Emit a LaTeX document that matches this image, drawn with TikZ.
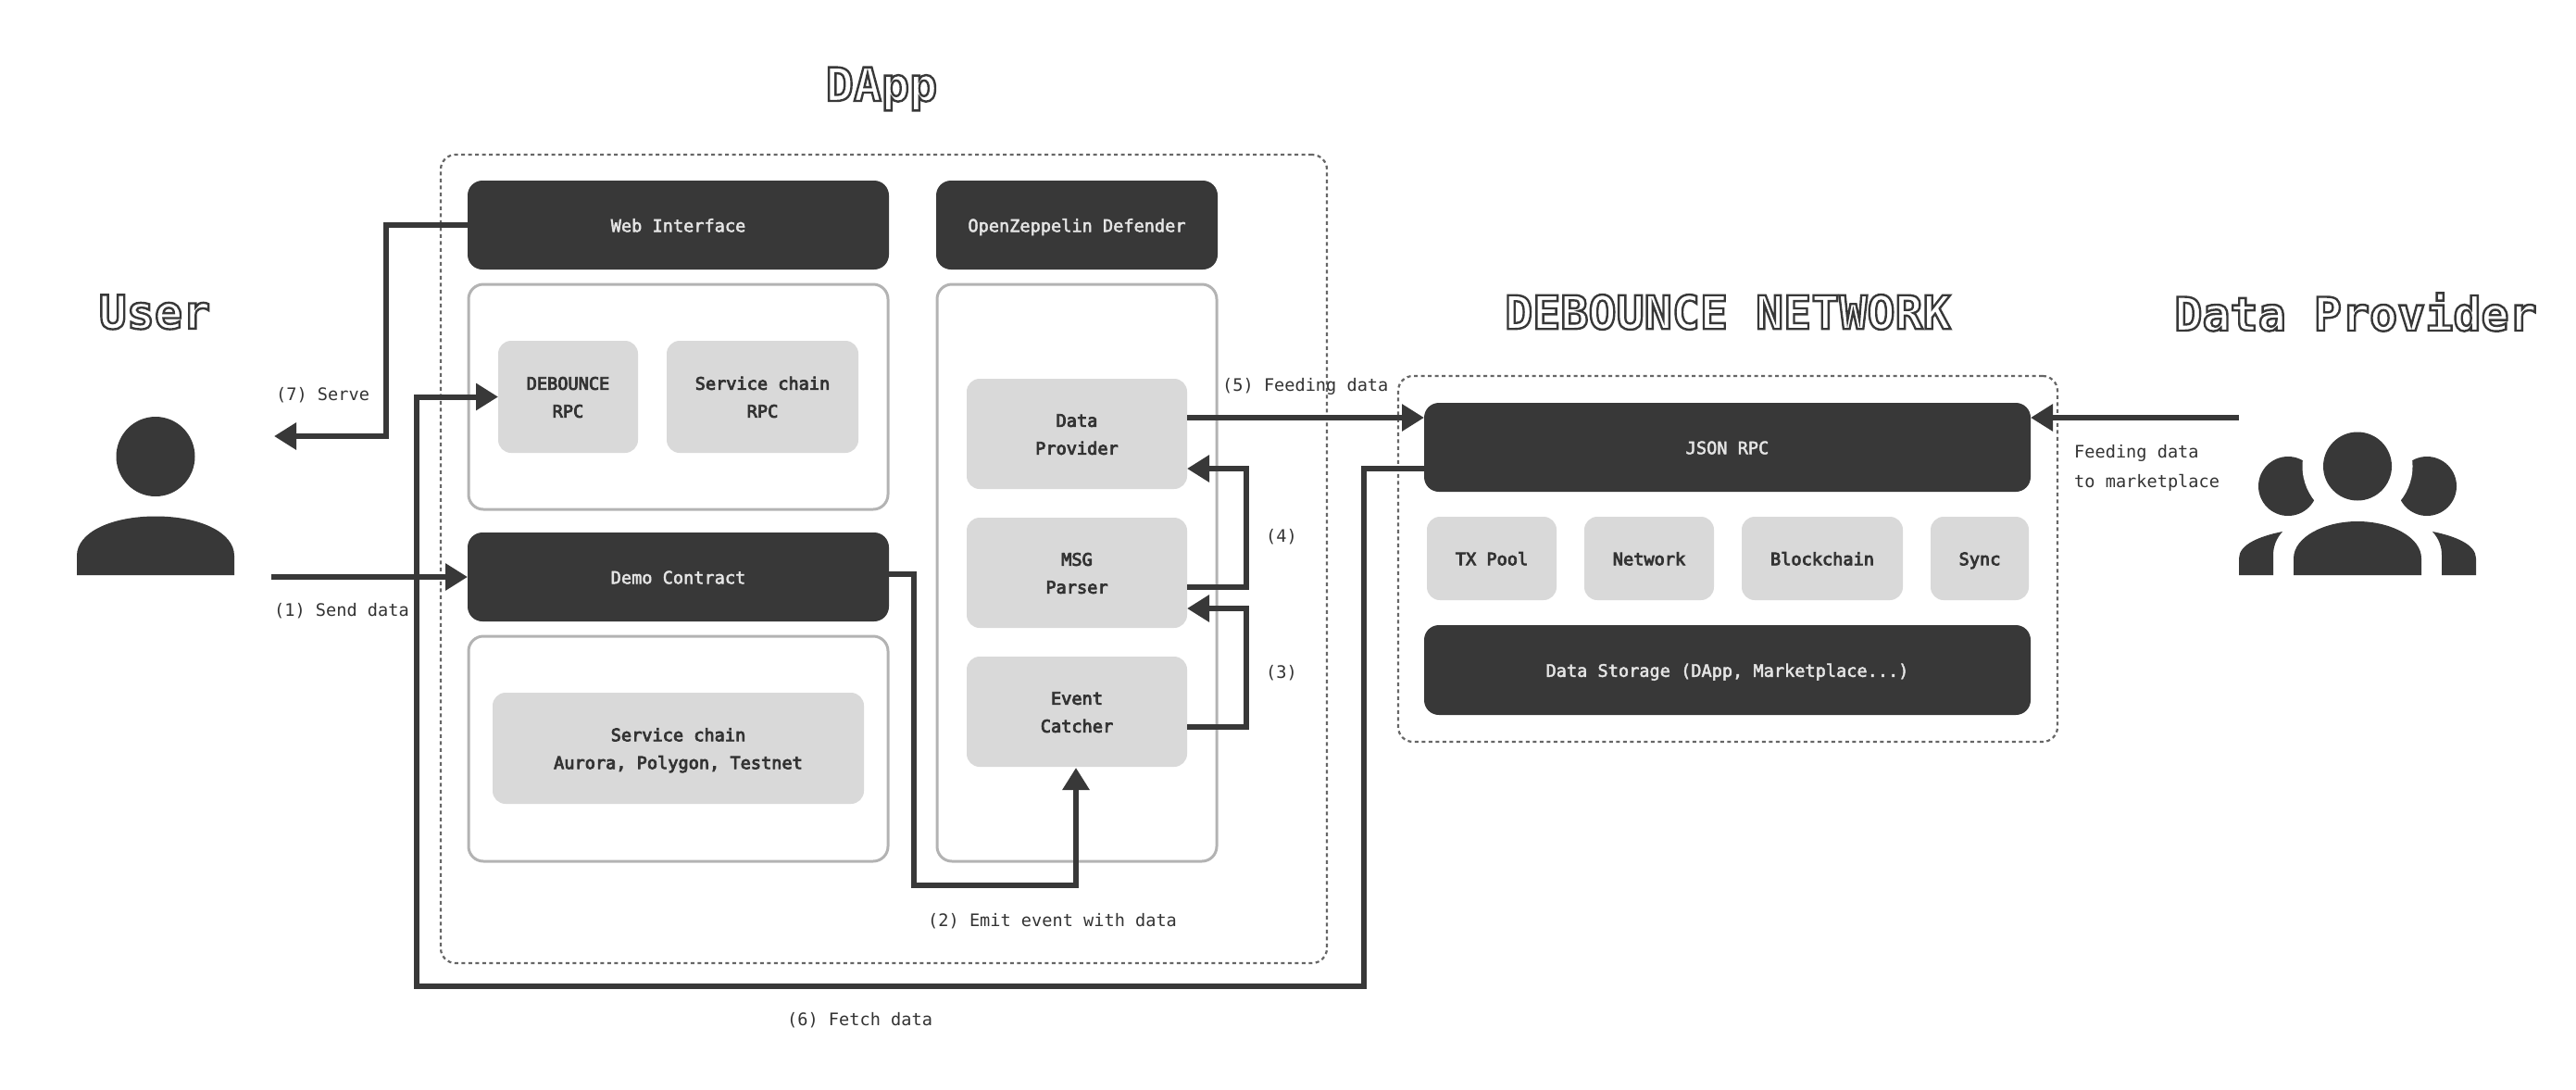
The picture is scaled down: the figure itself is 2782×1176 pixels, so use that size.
\documentclass[tikz,border=0pt]{standalone}
\usepackage{fontspec}
\setmainfont{DejaVu Sans Mono}
\usetikzlibrary{arrows.meta}
\definecolor{dk}{HTML}{383838}
\definecolor{lt}{HTML}{D9D9D9}
\definecolor{gb}{HTML}{B3B3B3}
\definecolor{dot}{HTML}{666666}
\definecolor{txt}{HTML}{333333}
\newcommand{\outl}[1]{\special{pdf:code q 2 Tr 2.4 w 0.22 0.22 0.22 RG}{\bfseries #1}\special{pdf:code Q}}
\newcommand{\bx}[7]{\node[#2,minimum width={(#5-#3)*1pt},minimum height={(#6-#4)*1pt}] (#1) at ({(#3+#5)/2},{(#4+#6)/2}) {};}
\newcommand{\bxt}[7]{\bx{#1}{#2}{#3}{#4}{#5}{#6}{}\node[#2t] (#1t) at ([yshift=-1.3pt]#1.center) {\csname open#2\endcsname\begin{tabular}{@{}c@{}}#7\end{tabular}\special{pdf:code Q}};}
\newcommand{\opendarkbox}{\special{pdf:code q 2 Tr 0.45 w 0.9 0.9 0.9 RG}}
\newcommand{\openlightbox}{\special{pdf:code q 2 Tr 0.8 w 0.2 0.2 0.2 RG}}
\tikzset{
 base/.style={inner sep=0pt,outer sep=0pt,align=center,rounded corners=16pt},
 darkbox/.style={base,fill=dk},
 darkboxt/.style={inner sep=0pt,text=white!90!black,font=\fontsize{18.6}{30}\selectfont},
 lightbox/.style={base,fill=lt,rounded corners=14pt},
 lightboxt/.style={inner sep=0pt,text=txt,font=\fontsize{18.6}{30}\selectfont},
 groupbox/.style={base,draw=gb,line width=3pt,fill=white},
 zonebox/.style={base,draw=dot,line width=2.2pt,dash pattern=on 4pt off 3.5pt},
 flow/.style={draw=dk,line width=6pt,-{Triangle[length=24pt,width=28pt]}},
 lab/.style={inner sep=0pt,anchor=west,text=txt,align=left,yshift=-1.6pt,font=\fontsize{18.6}{32}\selectfont},
 ttl/.style={inner sep=0pt,text=white,font=\fontsize{50}{50}\selectfont},
 icon/.style={fill=dk,draw=none}
}
\begin{document}
\begin{tikzpicture}[x=1pt,y=-1pt]
\useasboundingbox (0,0) rectangle (2782,1176);
% zones
\bx{dapp}{zonebox}{476}{167}{1433}{1040}{}
\bx{net}{zonebox}{1510}{406}{2222}{801}{}
% titles
\node[ttl] (tdapp) at (952,96) {\outl{DApp}};
\node[ttl] (tuser) at (167,337) {\outl{User}};
\node[ttl] (tnet) at (1866,337) {\outl{DEBOUNCE NETWORK}};
\node[ttl] (tprov) at (2544,337) {\outl{Data Provider}};
% DApp left column
\bxt{web}{darkbox}{505}{195}{960}{291}{Web Interface}
\bx{gtop}{groupbox}{506}{307}{959}{550}{}
\bxt{rpcd}{lightbox}{538}{368}{689}{489}{DEBOUNCE\\RPC}
\bxt{rpcs}{lightbox}{720}{368}{927}{489}{Service chain\\RPC}
\bxt{demo}{darkbox}{505}{575}{960}{671}{Demo Contract}
\bx{gbot}{groupbox}{506}{687}{959}{930}{}
\bxt{svc}{lightbox}{532}{748}{933}{868}{Service chain\\Aurora, Polygon, Testnet}
% DApp right column
\bxt{oz}{darkbox}{1011}{195}{1315}{291}{OpenZeppelin Defender}
\bx{gright}{groupbox}{1012}{307}{1314}{930}{}
\bxt{dprov}{lightbox}{1044}{409}{1282}{528}{Data\\Provider}
\bxt{msg}{lightbox}{1044}{559}{1282}{678}{MSG\\Parser}
\bxt{evt}{lightbox}{1044}{709}{1282}{828}{Event\\Catcher}
% network
\bxt{json}{darkbox}{1538}{435}{2193}{531}{JSON RPC}
\bxt{tx}{lightbox}{1541}{558}{1681}{648}{TX Pool}
\bxt{netw}{lightbox}{1711}{558}{1851}{648}{Network}
\bxt{chain}{lightbox}{1881}{558}{2055}{648}{Blockchain}
\bxt{sync}{lightbox}{2085}{558}{2191}{648}{Sync}
\bxt{store}{darkbox}{1538}{675}{2193}{772}{Data Storage (DApp, Marketplace...)}
% user icon
\fill[icon] (168,493) ellipse [x radius=42.5,y radius=43];
\path[icon] (83,621) -- (83,600) .. controls (83,575) and (120,557.5) .. (168,557.5) .. controls (216,557.5) and (253,575) .. (253,600) -- (253,621) -- cycle;
% group icon
\fill[icon] (2471,525) circle [radius=32];
\fill[icon] (2621,525) circle [radius=32];
\fill[white] (2546,503.5) circle [radius=59.5];
\fill[icon] (2546,503.5) circle [radius=37];
\path[icon] (2418,621) -- (2418,603) .. controls (2418,588) and (2440,579) .. (2465,574) .. controls (2458,582) and (2455,590) .. (2455,600) -- (2455,621) -- cycle;
\path[icon] (2674,621) -- (2674,603) .. controls (2674,588) and (2652,579) .. (2627,574) .. controls (2634,582) and (2637,590) .. (2637,600) -- (2637,621) -- cycle;
\path[icon] (2477,621) -- (2477,603) .. controls (2477,580) and (2510,563) .. (2546,563) .. controls (2582,563) and (2615,580) .. (2615,603) -- (2615,621) -- cycle;
% free ends
\coordinate (userout) at (293,623);
\coordinate (userin) at (296,471);
\coordinate (provout) at (2418,451);
% connectors
\draw[flow] (web.west) -- (417,243) -- (417,471) -- (userin);
\draw[flow] (userout) -- (demo.west);
\draw[flow] ([yshift=3pt]demo.east) -- (987,620) -- (987,956) -- (1162,956) -- (1162,829);
\draw[flow] ([yshift=-16.5pt]evt.east) -- (1346,785) -- (1346,657) -- ([yshift=-38.5pt]msg.east);
\draw[flow] ([yshift=-15.5pt]msg.east) -- (1346,634) -- (1346,506) -- ([yshift=-37.5pt]dprov.east);
\draw[flow] ([yshift=17.5pt]dprov.east) -- ([yshift=32pt]json.west);
\draw[flow] (provout) -- ([yshift=32pt]json.east);
\draw[flow] ([yshift=-23pt]json.west) -- (1473,506) -- (1473,1065) -- (450,1065) -- (450,428.5) -- (rpcd.west);
% labels
\node[lab] (l7) at (298,425) {(7) Serve};
\node[lab] (l1) at (296,658) {(1) Send data};
\node[lab] (l2) at (1002,993) {(2) Emit event with data};
\node[lab] (l6) at (850,1100) {(6) Fetch data};
\node[lab] (l5) at (1320,416) {(5) Feeding data};
\node[lab] (l4) at (1367,578) {(4)};
\node[lab] (l3) at (1367,725) {(3)};
\node[lab] (lf) at (2240,504) {Feeding data\\to marketplace};
\end{tikzpicture}
\end{document}
